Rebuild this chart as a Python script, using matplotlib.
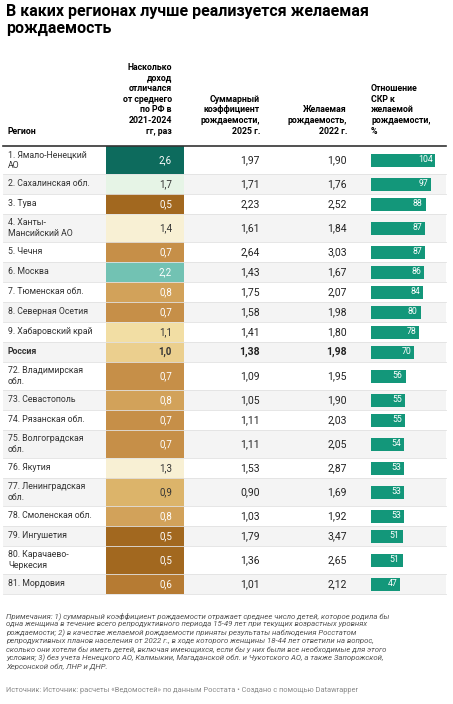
import matplotlib.pyplot as plt
import matplotlib.patches as mpatches

plt.rcParams['font.family'] = ['Roboto', 'DejaVu Sans']

regions = ["1. Ямало-Ненецкий\nАО", "2. Сахалинская обл.", "3. Тува", "4. Ханты-\nМансийский АО",
           "5. Чечня", "6. Москва", "7. Тюменская обл.", "8. Северная Осетия", "9. Хабаровский край",
           "Россия", "72. Владимирская\nобл.", "73. Севастополь", "74. Рязанская обл.",
           "75. Волгоградская\nобл.", "76. Якутия", "77. Ленинградская\nобл.", "78. Смоленская обл.",
           "79. Ингушетия", "80. Карачаево-\nЧеркесия", "81. Мордовия"]
income = [2.6, 1.7, 0.5, 1.4, 0.7, 2.2, 0.8, 0.7, 1.1, 1.0, 0.7, 0.8, 0.7, 0.7, 1.3, 0.9, 0.8, 0.5, 0.5, 0.6]
tfr = [1.97, 1.71, 2.23, 1.61, 2.64, 1.43, 1.75, 1.58, 1.41, 1.38, 1.09, 1.05, 1.11, 1.11, 1.53, 0.90, 1.03, 1.79, 1.36, 1.01]
desired = [1.90, 1.76, 2.52, 1.84, 3.03, 1.67, 2.07, 1.98, 1.80, 1.98, 1.95, 1.90, 2.03, 2.05, 2.87, 1.69, 1.92, 3.47, 2.65, 2.12]
ratio = [104, 97, 88, 87, 87, 86, 84, 80, 78, 70, 56, 55, 55, 54, 53, 53, 53, 51, 51, 47]


def income_color(v):
    if v >= 2.5: return "#0d6b5d"
    if v >= 2.0: return "#72c2b3"
    if v >= 1.6: return "#e6f4e6"
    if v >= 1.2: return "#f8f0d4"
    if v >= 1.05: return "#f2dea4"
    if v >= 0.95: return "#ebcf8e"
    if v >= 0.85: return "#dcb46a"
    if v >= 0.75: return "#d2a25a"
    if v >= 0.65: return "#c68f48"
    if v >= 0.55: return "#b67b33"
    return "#a2681f"


def fmt(v, d):
    return f"{v:.{d}f}".replace(".", ",")


W, H = 453, 704
fig = plt.figure(figsize=(W / 100, H / 100), dpi=100)
ax = fig.add_axes([0, 0, 1, 1])
ax.set_xlim(0, W)
ax.set_ylim(H, 0)
ax.axis("off")

ax.text(6, 4, "В каких регионах лучше реализуется желаемая\nрождаемость", fontsize=11.5,
        fontweight="bold", va="top", linespacing=1.15)

hdr_y = 136
hk = dict(fontsize=6.3, fontweight="bold", va="bottom", linespacing=1.25)
ax.text(8, hdr_y, "Регион", ha="left", **hk)
ax.text(172, hdr_y, "Насколько\nдоход\nотличался\nот среднего\nпо РФ в\n2021-2024\nгг, раз", ha="right", **hk)
ax.text(260, hdr_y, "Суммарный\nкоэффициент\nрождаемости,\n2025 г.", ha="right", **hk)
ax.text(347, hdr_y, "Желаемая\nрождаемость,\n2022 г.", ha="right", **hk)
ax.text(371, hdr_y, "Отношение\nСКР к\nжелаемой\nрождаемости,\n%", ha="left", **hk)
ax.plot([3, 446], [145.5, 145.5], color="#333333", lw=1.2)

y = 146
for i, reg in enumerate(regions):
    h = 28 if "\n" in reg else 20
    mid = y + h / 2
    bold = "bold" if reg == "Россия" else "normal"
    if i % 2 == 1:
        ax.add_patch(mpatches.Rectangle((3, y), 443, h, color="#f4f4f4", lw=0))
    ax.plot([3, 446], [y + h, y + h], color="#e2e2e2", lw=0.6)
    ax.add_patch(mpatches.Rectangle((106, y), 78, h, color=income_color(income[i]), lw=0))
    ax.text(8, mid, reg, fontsize=6.3, va="center", ha="left", color="#333333",
            fontweight=bold, linespacing=1.15)
    tc = "white" if income[i] >= 2.0 or income[i] <= 0.85 else "#333333"
    ax.text(172, mid, fmt(income[i], 1), fontsize=7, va="center", ha="right", color=tc, fontweight=bold)
    ax.text(260, mid, fmt(tfr[i], 2), fontsize=7.5, va="center", ha="right", color="#222222", fontweight=bold)
    ax.text(347, mid, fmt(desired[i], 2), fontsize=7.5, va="center", ha="right", color="#222222", fontweight=bold)
    bw = ratio[i] * 0.62
    ax.add_patch(mpatches.Rectangle((371, mid - 6.5), bw, 13, color="#13977a", lw=0))
    ax.text(371 + bw - 3, mid, str(ratio[i]), fontsize=6.3, va="center", ha="right", color="white")
    y += h

note = ("Примечания: 1) суммарный коэффициент рождаемости отражает среднее число детей, которое родила бы\n"
        "одна женщина в течение всего репродуктивного периода 15-49 лет при текущих возрастных уровнях\n"
        "рождаемости; 2) в качестве желаемой рождаемости приняты результаты наблюдения Росстатом\n"
        "репродуктивных планов населения от 2022 г., в ходе которого женщины 18-44 лет ответили на вопрос,\n"
        "сколько они хотели бы иметь детей, включая имеющихся, если бы у них были все необходимые для этого\n"
        "условия; 3) без учета Ненецкого АО, Калмыкии, Магаданской обл. и Чукотского АО, а также Запорожской,\n"
        "Херсонской обл, ЛНР и ДНР.")
ax.text(6, 612, note, fontsize=5.6, style="italic", color="#555555", va="top", linespacing=1.3)
ax.text(6, 690, "Источник: Источник: расчеты «Ведомостей» по данным Росстата • Создано с помощью Datawrapper",
        fontsize=5.3, color="#888888", va="center")

fig.savefig("out.png", dpi=100)
